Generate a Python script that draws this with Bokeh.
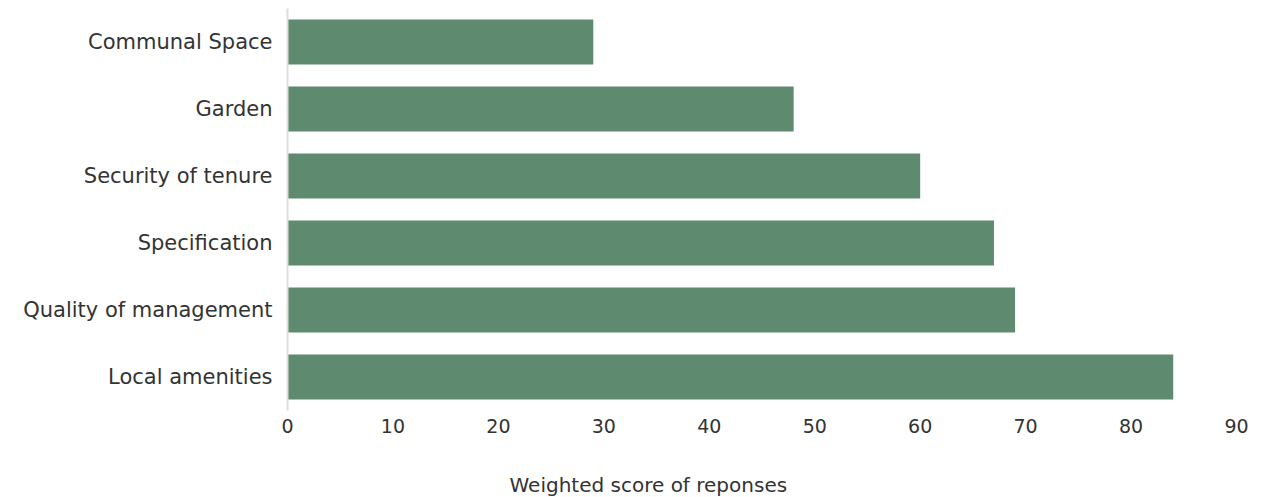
from bokeh.plotting import figure
from bokeh.models import ColumnDataSource, Range1d, FactorRange, Title
from bokeh.embed import file_html
from bokeh.resources import INLINE

categories = ["Communal Space", "Garden", "Security of tenure",
              "Specification", "Quality of management", "Local amenities"]
scores = [29, 48, 60, 67, 69, 84]
x_ticks = [0, 10, 20, 30, 40, 50, 60, 70, 80, 90]
x_title = "Weighted score of reponses"

FONT = "DejaVu Sans"
TEXT = "#333333"
BAR = "#5e8b6f"

# top-to-bottom order: first category at the top
y_order = list(reversed(categories))

src = ColumnDataSource(dict(cat=categories, score=scores))

p = figure(width=1288, height=497, y_range=FactorRange(*y_order, range_padding=0),
           x_range=Range1d(0, 90), output_backend="svg", toolbar_location=None,
           min_border_left=287, min_border_right=52, min_border_top=8,
           min_border_bottom=87)

p.hbar(y="cat", left=0, right="score", height=0.67, source=src,
       fill_color=BAR, line_color=None)

p.outline_line_color = None
p.grid.visible = False

p.xaxis.ticker = x_ticks
p.xaxis.axis_line_color = None
p.xaxis.major_tick_line_color = None
p.xaxis.minor_tick_line_color = None
p.xaxis.major_label_text_font = FONT
p.xaxis.major_label_text_font_size = "19px"
p.xaxis.major_label_text_color = TEXT
p.xaxis.major_label_standoff = 2
# blank axis label reserves the gap between tick labels and the title
p.xaxis.axis_label = " "
p.xaxis.axis_label_text_font_size = "20px"
p.xaxis.axis_label_standoff = 10

p.yaxis.axis_line_color = "#dddddd"
p.yaxis.axis_line_width = 2
p.yaxis.major_tick_line_color = None
p.yaxis.minor_tick_line_color = None
p.yaxis.major_label_text_font = FONT
p.yaxis.major_label_text_font_size = "21px"
p.yaxis.major_label_text_color = TEXT
p.yaxis.major_label_standoff = 9

# x-axis title below the tick labels, shifted to sit under the canvas centre
p.add_layout(Title(text=x_title, align="left", offset=222, standoff=0,
                   text_font=FONT, text_font_size="20px",
                   text_font_style="normal", text_color=TEXT), "below")

open("out.html", "w").write(file_html(p, INLINE))
